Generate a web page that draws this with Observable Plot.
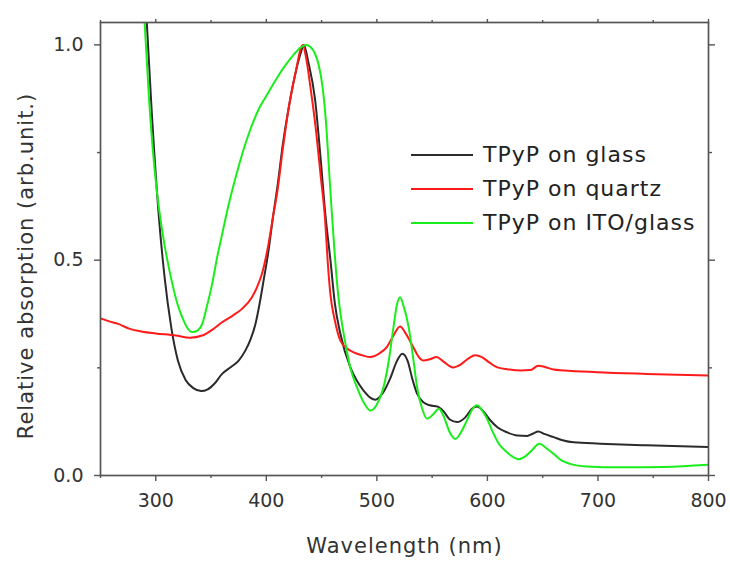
<!DOCTYPE html>
<html>
<head>
<meta charset="utf-8">
<script src="https://cdn.jsdelivr.net/npm/d3@7"></script>
<script src="https://cdn.jsdelivr.net/npm/@observablehq/plot@0.6"></script>
<style>
  body { margin: 0; background: #fff; }
  #wrap { position: relative; width: 730px; height: 561px; font-family: "DejaVu Sans", sans-serif; }
  #wrap svg text { fill: #333; }
  #wrap svg .lbl text { letter-spacing: 1px; }
  .legend { position: absolute; left: 411px; top: 0; }
  .row { position: absolute; left: 0; height: 26px; white-space: nowrap; }
  .row .sw { position: absolute; left: 0; top: 12px; width: 62px; height: 0; border-top: 2px solid; }
  .row .tx { position: absolute; left: 72px; top: 0; font-size: 22px; line-height: 26px; color: #222; letter-spacing: 1px; }
</style>
</head>
<body>
<div id="wrap"></div>
<script>
// Series names and colours
const seriesNames = ["TPyP on glass", "TPyP on quartz", "TPyP on ITO/glass"];
const seriesColors = ["#2b2b2b", "#ff1a1a", "#1aee1a"];

// TPyP on glass (black)
const glassWl = [291.5,296,302.7,308,314,320,327,334,341,347,353,360,368,375,381,386,390,394,398,402,406,410,415,420,426,431,434,438,444,449,453.5,458,462,467,476,482,488,493,498.7,505,512,518,523,528,532,536.4,542,548,555,560,566,572.5,580,586,590.6,596,602,609,618,627,636,641,646,652,660,668,678,702,744,800];
const glassAbs = [1.07,0.86,0.604,0.46,0.344,0.267,0.222,0.203,0.196,0.2,0.213,0.236,0.252,0.267,0.29,0.318,0.35,0.4,0.46,0.522,0.6,0.67,0.77,0.85,0.93,0.98,1.0,0.96,0.875,0.74,0.604,0.5,0.4,0.329,0.251,0.22,0.197,0.183,0.176,0.19,0.225,0.265,0.283,0.265,0.225,0.19,0.17,0.163,0.16,0.15,0.13,0.124,0.135,0.155,0.16,0.15,0.13,0.112,0.1,0.093,0.092,0.097,0.102,0.096,0.089,0.082,0.077,0.074,0.07,0.066];

// TPyP on quartz (red)
const quartzWl = [250,258,266,276,288,300,318,331,342,352,360,370,378,387,392,396,402,406,410,415,420,426,433,436,440,445,449,453,456,458,462,467,473,479,487,494,502,509,515,521,526,533,538,542,548,554,560,569,576,583,589,595,602,609,620,630,639,646,652,660,669,699,744,800];
const quartzAbs = [0.365,0.358,0.352,0.341,0.334,0.33,0.325,0.32,0.325,0.34,0.356,0.372,0.387,0.414,0.44,0.468,0.538,0.6,0.66,0.76,0.85,0.93,1.0,0.97,0.9,0.8,0.7,0.6,0.48,0.42,0.36,0.313,0.295,0.286,0.279,0.275,0.283,0.298,0.325,0.346,0.33,0.298,0.275,0.267,0.27,0.275,0.265,0.251,0.258,0.272,0.279,0.275,0.262,0.251,0.246,0.244,0.245,0.255,0.252,0.246,0.244,0.24,0.236,0.232];

// TPyP on ITO/glass (green)
const itoWl = [289.5,294,301,304,309,315,320,324,328,333,338,342,346,351,355,360,366,372,378,385,393,402,410,417,425,431,436,440,444,447.5,451,454,456.5,459,462,465,468,471.6,476,482,488,494,500,506,511,515,518,521,524,528.8,533,536.4,541,545.4,551,556,560,566,571,576,581.5,586,590.6,595,600,605,610,616,622,628,634,640,647,653,660,667,675,690,720,760,800];
const itoAbs = [1.07,0.87,0.66,0.6,0.52,0.445,0.395,0.367,0.345,0.333,0.337,0.352,0.39,0.445,0.5,0.56,0.63,0.69,0.745,0.8,0.85,0.89,0.925,0.952,0.978,0.994,1.0,0.995,0.98,0.952,0.9,0.82,0.72,0.62,0.51,0.42,0.36,0.306,0.25,0.205,0.17,0.151,0.165,0.205,0.27,0.344,0.395,0.414,0.395,0.344,0.27,0.205,0.155,0.132,0.142,0.155,0.14,0.1,0.085,0.1,0.128,0.152,0.163,0.152,0.13,0.1,0.075,0.058,0.045,0.038,0.044,0.058,0.074,0.064,0.05,0.035,0.027,0.021,0.019,0.02,0.025];

// Ticks
const majorX = [300, 400, 500, 600, 700, 800];
const minorX = [250, 350, 450, 550, 650, 750];
const majorY = [0, 0.5, 1.0];
const minorY = [0.25, 0.75];
const xLabel = "Wavelength (nm)";
const yLabel = "Relative absorption (arb.unit.)";

const toRows = (wl, v, s) => wl.map((w, i) => ({wl: w, v: v[i], s}));
const data = [
  ...toRows(glassWl, glassAbs, seriesNames[0]),
  ...toRows(quartzWl, quartzAbs, seriesNames[1]),
  ...toRows(itoWl, itoAbs, seriesNames[2])
];

const axisStroke = "#555";
const chart = Plot.plot({
  width: 730,
  height: 561,
  marginLeft: 100,
  marginRight: 22,
  marginTop: 22,
  marginBottom: 86,
  x: {domain: [250, 800], label: null},
  y: {domain: [0, 1.052], label: null},
  color: {domain: seriesNames, range: seriesColors},
  style: {fontFamily: "DejaVu Sans", background: "white", overflow: "visible"},
  marks: [
    Plot.line(data, {x: "wl", y: "v", z: "s", stroke: "s", strokeWidth: 2, curve: "monotone-x", clip: true}),
    Plot.frame({stroke: axisStroke, strokeWidth: 1.7}),
    Plot.axisX({ticks: majorX, tickSize: 6, tickPadding: 12, fontSize: 19, tickFormat: d => String(d), stroke: axisStroke, strokeWidth: 1.4, label: null}),
    Plot.axisX({ticks: minorX, tickSize: 3, text: null, stroke: axisStroke, strokeWidth: 1.4, label: null}),
    Plot.axisX({anchor: "top", ticks: majorX, tickSize: 4, text: null, stroke: axisStroke, strokeWidth: 1.4, label: null}),
    Plot.axisX({anchor: "top", ticks: minorX, tickSize: 3, text: null, stroke: axisStroke, strokeWidth: 1.4, label: null}),
    Plot.axisY({ticks: majorY, tickSize: 6, tickPadding: 11, fontSize: 19, tickFormat: d3.format(".1f"), stroke: axisStroke, strokeWidth: 1.4, label: null}),
    Plot.axisY({ticks: minorY, tickSize: 3, text: null, stroke: axisStroke, strokeWidth: 1.4, label: null}),
    Plot.axisY({anchor: "right", ticks: majorY, tickSize: 6, text: null, stroke: axisStroke, strokeWidth: 1.4, label: null}),
    Plot.axisY({anchor: "right", ticks: minorY, tickSize: 3, text: null, stroke: axisStroke, strokeWidth: 1.4, label: null}),
    Plot.text([xLabel], {frameAnchor: "bottom", dy: 77, fontSize: 21, text: d => d, textAnchor: "middle", className: "lbl"}),
    Plot.text([yLabel], {frameAnchor: "left", dx: -74, dy: 17, rotate: -90, fontSize: 21, text: d => d, textAnchor: "middle", lineAnchor: "middle", className: "lbl"})
  ]
});

const wrap = document.getElementById("wrap");
wrap.appendChild(chart);

// Legend (HTML overlay)
const legend = document.createElement("div");
legend.className = "legend";
const rowCenters = [155, 189, 223];
seriesNames.forEach((name, i) => {
  const row = document.createElement("div");
  row.className = "row";
  row.style.top = (rowCenters[i] - 13) + "px";
  const sw = document.createElement("div");
  sw.className = "sw";
  sw.style.borderTopColor = seriesColors[i];
  const tx = document.createElement("div");
  tx.className = "tx";
  tx.textContent = name;
  row.appendChild(sw);
  row.appendChild(tx);
  legend.appendChild(row);
});
wrap.appendChild(legend);
</script>
</body>
</html>
